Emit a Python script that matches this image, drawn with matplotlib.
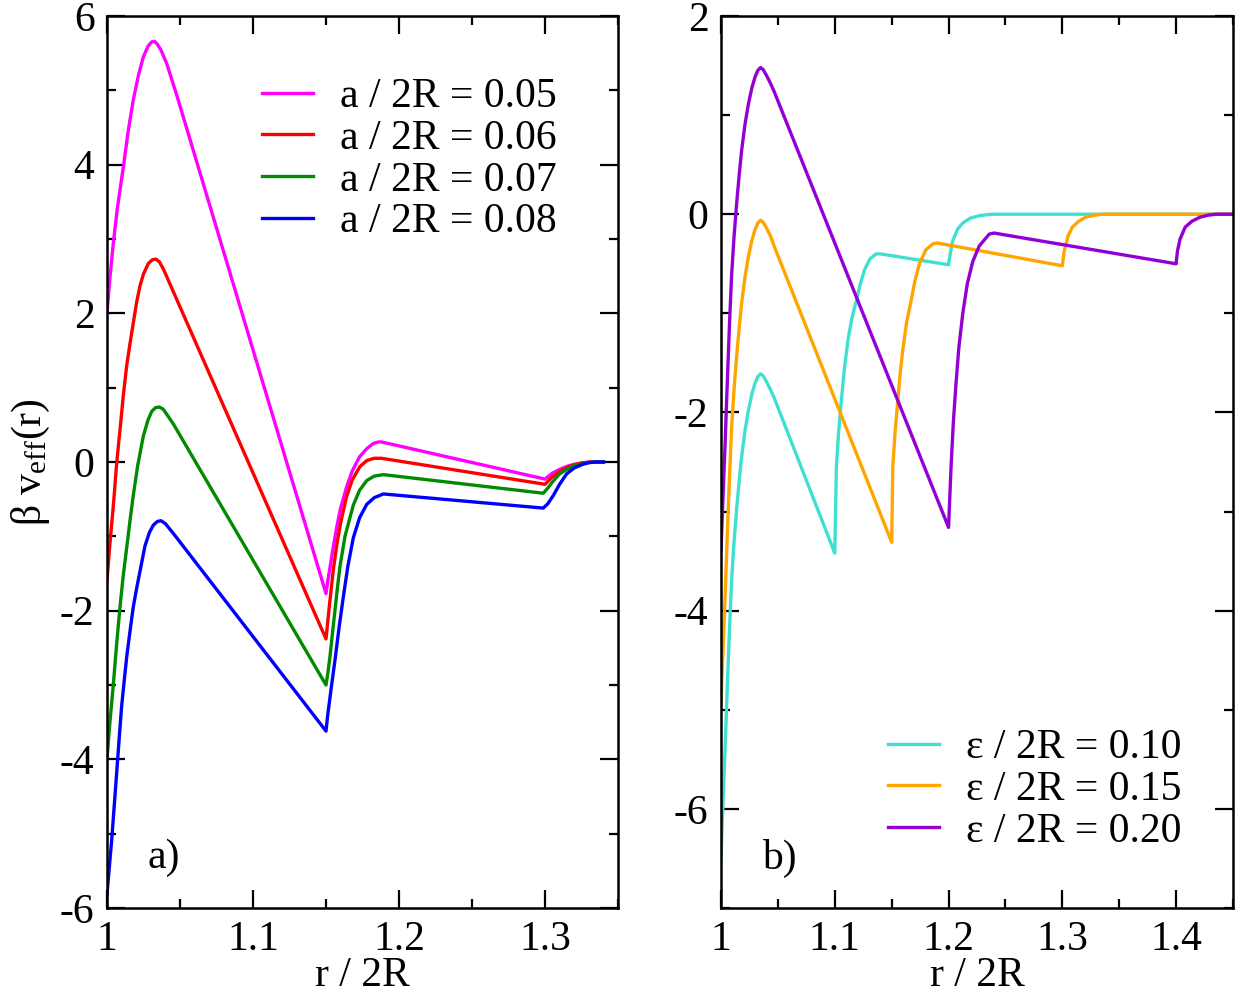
import matplotlib
matplotlib.use("Agg")
import matplotlib.pyplot as plt
from matplotlib.ticker import MultipleLocator, FuncFormatter

plt.rcParams['font.family'] = ['Liberation Serif', 'DejaVu Serif']
plt.rcParams['mathtext.fontset'] = 'custom'
plt.rcParams['mathtext.rm'] = 'Liberation Serif'
plt.rcParams['mathtext.it'] = 'Liberation Serif:italic'

# ---------------- panel a) : a / 2R series ----------------
a_labels = ["a / 2R = 0.05", "a / 2R = 0.06", "a / 2R = 0.07", "a / 2R = 0.08"]
a_colors = ["#ff00ff", "#ff0000", "#008b00", "#0000ff"]

r_a005 = [1.000, 1.002, 1.0043, 1.007, 1.0112, 1.0145, 1.018, 1.0215, 1.0249, 1.028, 1.0305,
          1.0325, 1.0345, 1.037, 1.0409, 1.0477,
          1.150, 1.1512, 1.1525, 1.155, 1.1575, 1.160, 1.1642, 1.168, 1.173, 1.178, 1.1824,
          1.186, 1.188,
          1.300, 1.3025, 1.305, 1.310, 1.3148, 1.320, 1.326, 1.330, 1.334, 1.340]
v_a005 = [2.00, 2.48, 2.94, 3.40, 3.97, 4.45, 4.87, 5.20, 5.45, 5.59, 5.65,
          5.66, 5.62, 5.54, 5.36, 4.94,
          -1.77, -1.60, -1.45, -1.14, -0.86, -0.62, -0.33, -0.12, 0.07, 0.18, 0.25,
          0.27, 0.27,
          -0.23, -0.19, -0.15, -0.10, -0.06, -0.03, -0.01, -0.003, 0.0, 0.0]

r_a006 = [1.000, 1.002, 1.0045, 1.0067, 1.0089, 1.0112, 1.0135, 1.0158, 1.018, 1.0203,
          1.0226, 1.025, 1.0283, 1.031, 1.0335, 1.036, 1.039, 1.043, 1.0477,
          1.150, 1.1512, 1.1525, 1.155, 1.1575, 1.160, 1.164, 1.168, 1.1733, 1.178, 1.183, 1.188,
          1.300, 1.3025, 1.305, 1.310, 1.3148, 1.320, 1.326, 1.330, 1.334, 1.340]
v_a006 = [-1.59, -1.10, -0.55, 0.00, 0.43, 0.90, 1.30, 1.60, 1.87, 2.15,
          2.37, 2.53, 2.67, 2.72, 2.73, 2.69, 2.58, 2.40, 2.19,
          -2.38, -2.15, -1.90, -1.45, -1.10, -0.82, -0.47, -0.24, -0.06, 0.02, 0.05, 0.05,
          -0.30, -0.25, -0.20, -0.13, -0.08, -0.04, -0.01, -0.003, 0.0, 0.0]

r_a007 = [1.000, 1.002, 1.0043, 1.0066, 1.0089, 1.011, 1.0135, 1.016, 1.018, 1.021,
          1.0249, 1.028, 1.0306, 1.0332, 1.0358, 1.0385, 1.041, 1.0455,
          1.150, 1.1512, 1.1527, 1.155, 1.1575, 1.1596, 1.163, 1.1687, 1.173, 1.1779, 1.183, 1.1893,
          1.2988, 1.302, 1.305, 1.310, 1.3148, 1.320, 1.326, 1.330, 1.334, 1.340]
v_a007 = [-3.99, -3.50, -3.00, -2.45, -1.95, -1.55, -1.15, -0.75, -0.45, -0.05,
          0.35, 0.56, 0.68, 0.73, 0.74, 0.71, 0.64, 0.51,
          -3.00, -2.85, -2.62, -2.20, -1.75, -1.40, -1.00, -0.58, -0.38, -0.25, -0.19, -0.17,
          -0.42, -0.35, -0.27, -0.16, -0.10, -0.05, -0.02, -0.005, 0.0, 0.0]

r_a008 = [1.000, 1.0016, 1.0032, 1.0049, 1.0066, 1.0083, 1.010, 1.0118, 1.0135, 1.0158,
          1.018, 1.0203, 1.0226, 1.026, 1.029, 1.0317, 1.0345, 1.037, 1.040, 1.0454,
          1.150, 1.1512, 1.1535, 1.1562, 1.159, 1.1619, 1.165, 1.1687, 1.173, 1.1779, 1.183, 1.1893,
          1.2988, 1.302, 1.3057, 1.310, 1.3148, 1.320, 1.326, 1.330, 1.334, 1.340]
v_a008 = [-5.81, -5.45, -5.09, -4.64, -4.19, -3.73, -3.29, -2.94, -2.62, -2.27,
          -1.95, -1.70, -1.47, -1.13, -0.95, -0.85, -0.80, -0.79, -0.83, -0.96,
          -3.62, -3.40, -3.05, -2.66, -2.22, -1.81, -1.40, -1.02, -0.75, -0.57, -0.48, -0.43,
          -0.62, -0.56, -0.45, -0.30, -0.16, -0.08, -0.03, -0.01, 0.0, 0.0]

a_r = [r_a005, r_a006, r_a007, r_a008]
a_v = [v_a005, v_a006, v_a007, v_a008]

# ---------------- panel b) : epsilon / 2R series ----------------
e_labels = ["ε / 2R = 0.10", "ε / 2R = 0.15", "ε / 2R = 0.20"]
e_colors = ["#40e0d0", "#ffa500", "#9400d3"]

r_e010 = [1.000, 1.0012, 1.0035, 1.0058, 1.0075, 1.0093, 1.0115, 1.0137, 1.016, 1.0181,
          1.021, 1.0239, 1.027, 1.0298, 1.0323, 1.0348, 1.037, 1.040, 1.0435, 1.047,
          1.100, 1.1007, 1.1014, 1.1035, 1.1058, 1.1085, 1.1116, 1.115, 1.119, 1.1225, 1.1262,
          1.131, 1.1364, 1.140,
          1.200, 1.2018, 1.2036, 1.208, 1.2124, 1.219, 1.227, 1.235, 1.240, 1.450]
v_e010 = [-6.49, -6.11, -5.42, -4.69, -4.18, -3.70, -3.30, -2.98, -2.69, -2.45,
          -2.19, -1.99, -1.82, -1.71, -1.64, -1.61, -1.63, -1.69, -1.77, -1.86,
          -3.42, -3.00, -2.55, -2.18, -1.88, -1.55, -1.27, -1.05, -0.87, -0.70, -0.56,
          -0.45, -0.40, -0.40,
          -0.51, -0.38, -0.27, -0.15, -0.09, -0.04, -0.015, -0.003, 0.0, 0.0]

r_e015 = [1.000, 1.0012, 1.0035, 1.0058, 1.0075, 1.0093, 1.0115, 1.0137, 1.016, 1.0181,
          1.021, 1.0239, 1.027, 1.0298, 1.0323, 1.0348, 1.037, 1.040, 1.0435, 1.047,
          1.150, 1.1505, 1.151, 1.153, 1.1554, 1.1575, 1.1598, 1.163, 1.1671, 1.1705, 1.1744,
          1.180, 1.1861, 1.190,
          1.300, 1.3015, 1.305, 1.3088, 1.3145, 1.3205, 1.328, 1.335, 1.450]
v_e015 = [-4.94, -4.56, -3.89, -3.15, -2.64, -2.16, -1.76, -1.44, -1.14, -0.90,
          -0.64, -0.44, -0.27, -0.16, -0.09, -0.06, -0.08, -0.14, -0.22, -0.33,
          -3.31, -2.95, -2.55, -2.20, -1.88, -1.60, -1.37, -1.10, -0.87, -0.67, -0.50,
          -0.36, -0.30, -0.29,
          -0.52, -0.38, -0.22, -0.13, -0.07, -0.03, -0.01, 0.0, 0.0]

r_e020 = [1.000, 1.0012, 1.0035, 1.0058, 1.0075, 1.0093, 1.0115, 1.0137, 1.016, 1.0181,
          1.021, 1.0239, 1.027, 1.0298, 1.0323, 1.0348, 1.037, 1.040, 1.0435, 1.047,
          1.200, 1.2011, 1.2022, 1.2042, 1.2066, 1.209, 1.2125, 1.2165, 1.2212, 1.227,
          1.2358, 1.240,
          1.400, 1.4012, 1.4035, 1.408, 1.414, 1.421, 1.428, 1.435, 1.450]
v_e020 = [-3.39, -3.02, -2.35, -1.61, -1.10, -0.62, -0.22, 0.10, 0.40, 0.64,
          0.90, 1.10, 1.27, 1.38, 1.45, 1.48, 1.46, 1.40, 1.32, 1.23,
          -3.16, -2.85, -2.55, -2.10, -1.70, -1.35, -1.00, -0.70, -0.48, -0.32,
          -0.20, -0.19,
          -0.50, -0.37, -0.25, -0.13, -0.07, -0.03, -0.01, 0.0, 0.0]

e_r = [r_e010, r_e015, r_e020]
e_v = [v_e010, v_e015, v_e020]

FS = 30
LW = 2.4

fig = plt.figure(figsize=(12.36, 9.94), dpi=100)
axL = fig.add_axes([107/1236, 1-908/994, 511/1236, 892/994])
axR = fig.add_axes([721/1236, 1-908/994, 512/1236, 892/994])

for r, v, c, lab in zip(a_r, a_v, a_colors, a_labels):
    axL.plot(r, v, color=c, lw=LW, label=lab, solid_joinstyle='round')
for r, v, c, lab in zip(e_r, e_v, e_colors, e_labels):
    axR.plot(r, v, color=c, lw=LW, label=lab, solid_joinstyle='round')

axL.set_xlim(1.0, 1.35)
axL.set_ylim(-6, 6)
axR.set_xlim(1.0, 1.45)
axR.set_ylim(-7, 2)

fmt = FuncFormatter(lambda x, p: f"{x:g}")
for ax in (axL, axR):
    ax.xaxis.set_major_locator(MultipleLocator(0.1))
    ax.xaxis.set_minor_locator(MultipleLocator(0.05))
    ax.yaxis.set_major_locator(MultipleLocator(2))
    ax.yaxis.set_minor_locator(MultipleLocator(1))
    ax.tick_params(which='both', direction='in', top=True, right=True,
                   labelsize=FS, width=1.6)
    ax.tick_params(which='major', length=13, pad=9)
    ax.tick_params(which='minor', length=6.5)
    for s in ax.spines.values():
        s.set_linewidth(1.8)
    ax.xaxis.set_major_formatter(fmt)
    ax.yaxis.set_major_formatter(fmt)
    ax.set_xlabel("r / 2R", fontsize=FS, labelpad=-2)

axL.set_ylabel(r"β v$_{\mathrm{eff}}$(r)", fontsize=FS, labelpad=6)

axL.text(0.08, 0.056, "a)", transform=axL.transAxes, fontsize=FS, va='center', ha='left')
axR.text(0.08, 0.056, "b)", transform=axR.transAxes, fontsize=FS, va='center', ha='left')

legL = axL.legend(loc='center left', bbox_to_anchor=(0.303, 0.839), frameon=False,
                  fontsize=FS, handlelength=1.22, handletextpad=0.65,
                  labelspacing=0.075, borderpad=0, borderaxespad=0)
legR = axR.legend(loc='center left', bbox_to_anchor=(0.326, 0.1325), frameon=False,
                  fontsize=FS, handlelength=1.22, handletextpad=0.65,
                  labelspacing=0.075, borderpad=0, borderaxespad=0)

fig.savefig("out.png", dpi=100)
